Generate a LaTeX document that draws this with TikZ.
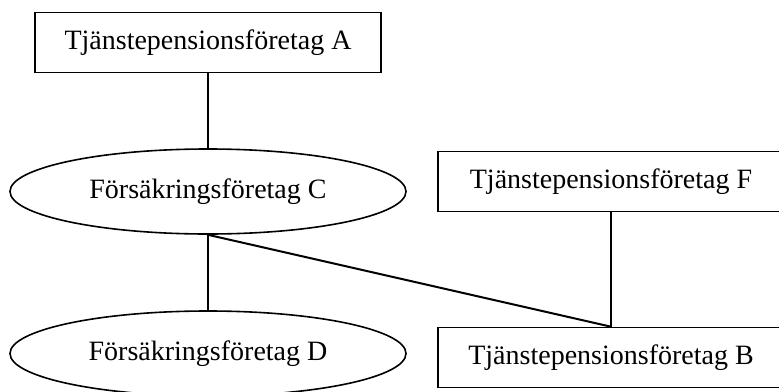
\documentclass[tikz,border=0pt]{standalone}
\usepackage{fontspec}
\setmainfont{Liberation Serif}
\usetikzlibrary{shapes.geometric}
\tikzset{
  box/.style={draw, line width=1.6pt, rectangle, minimum width=346pt, minimum height=60pt, inner sep=0pt, font=\fontsize{28}{32}\selectfont},
  oval/.style={draw, line width=1.6pt, ellipse, minimum width=396pt, minimum height=85pt, inner sep=0pt, font=\fontsize{28}{32}\selectfont},
  conn/.style={line width=2pt}
}
\begin{document}
\begin{tikzpicture}[x=1pt,y=-1pt]
\useasboundingbox (0,0) rectangle (779,391);
\clip (0,0) rectangle (779,391);
\fill[white] (0,0) rectangle (779,391);
\node[box] (A) at (208,42.5) {Tjänstepensionsföretag A};
\node[oval] (C) at (208,191.5) {Försäkringsföretag C};
\node[oval] (D) at (208,353.5) {Försäkringsföretag D};
\node[box] (F) at (611,181.5) {Tjänstepensionsföretag F};
\node[box] (B) at (611,357.5) {Tjänstepensionsföretag B};
\draw[conn] (A.south) -- (C.north);
\draw[conn] (C.south) -- (D.north);
\draw[conn] (C.south) -- (B.north);
\draw[conn] (F.south) -- (B.north);
\end{tikzpicture}
\end{document}
